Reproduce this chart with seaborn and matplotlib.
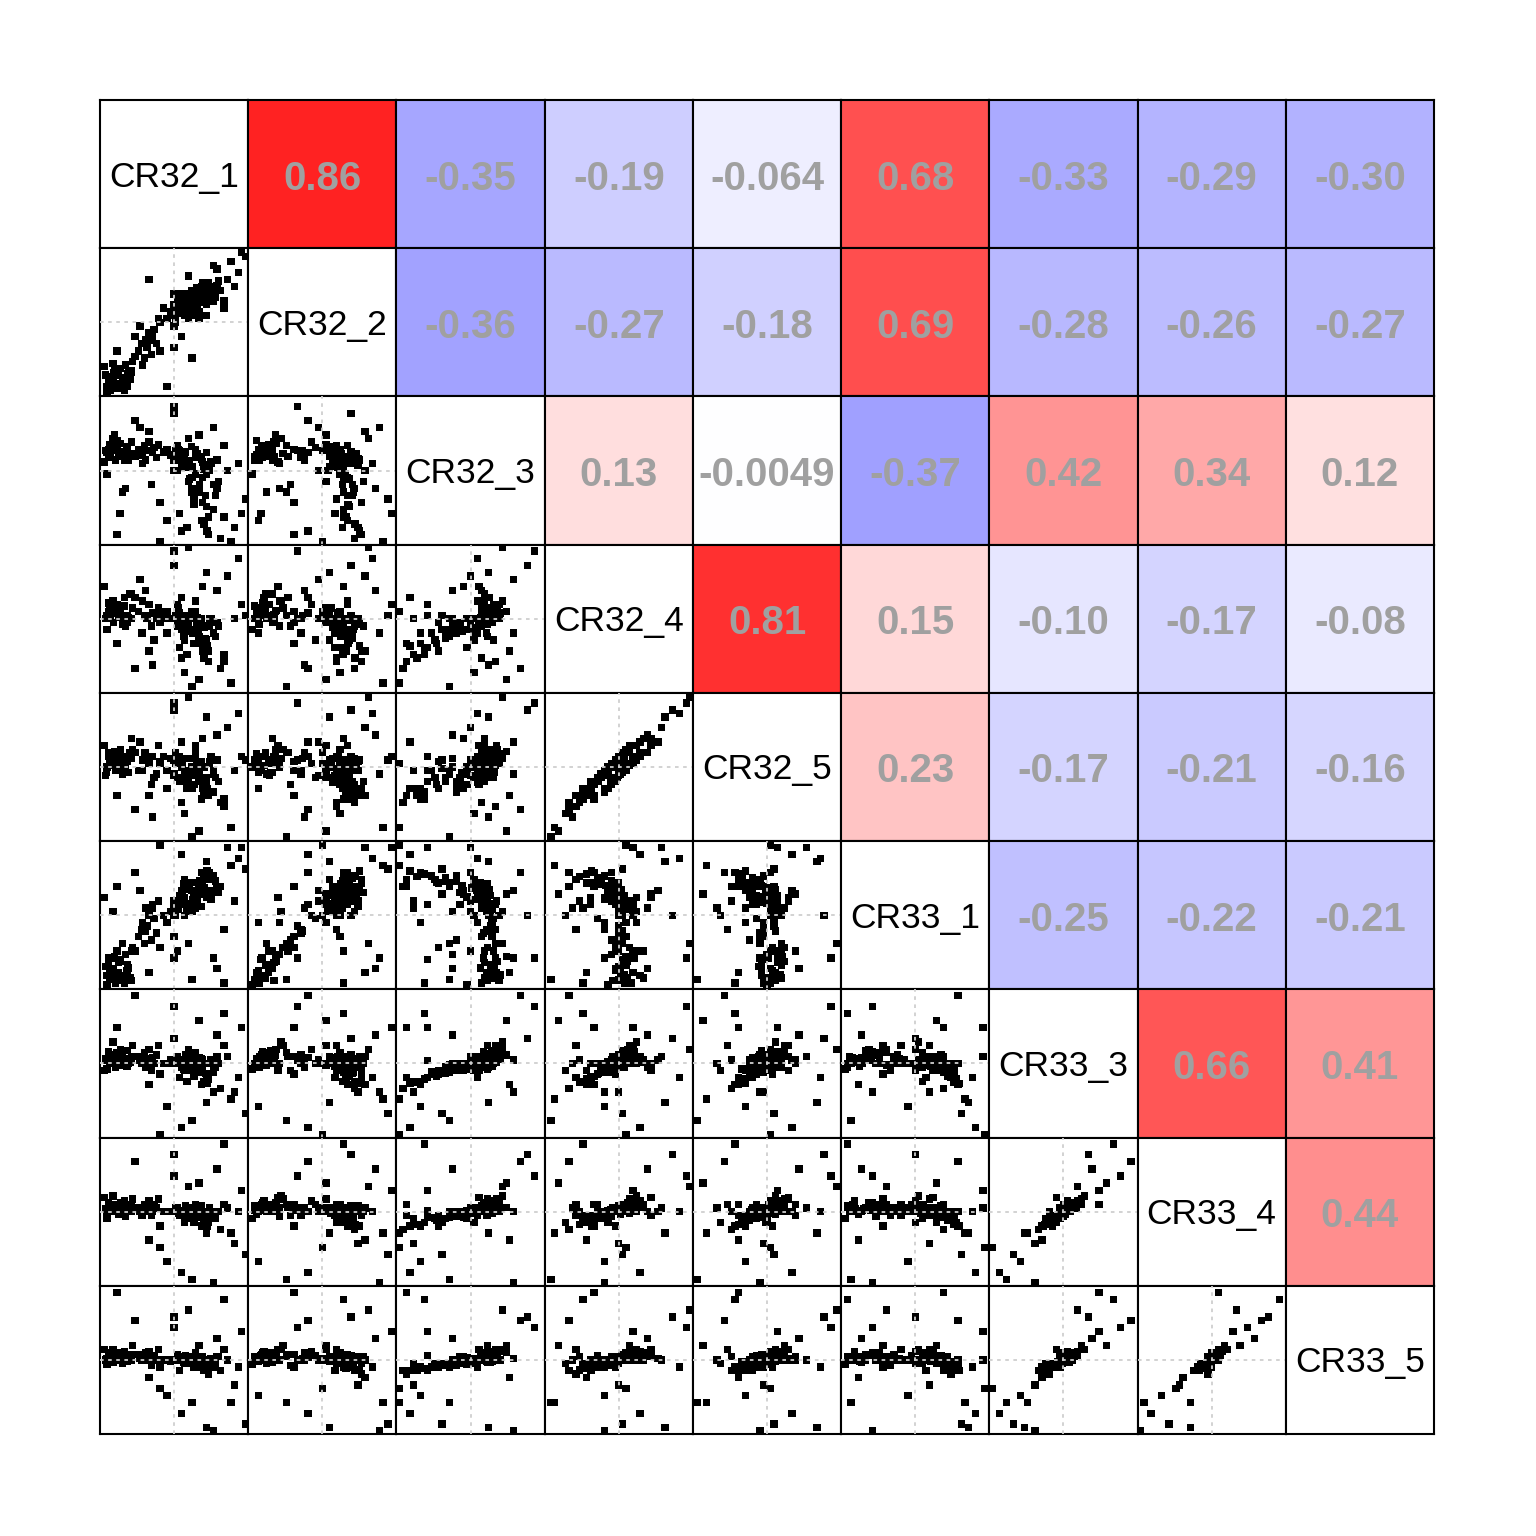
import numpy as np
import pandas as pd
import seaborn as sns
import matplotlib.pyplot as plt
from matplotlib.colors import LinearSegmentedColormap, Normalize

# variable names (diagonal labels)
names = ['CR32_1', 'CR32_2', 'CR32_3', 'CR32_4', 'CR32_5',
         'CR33_1', 'CR33_3', 'CR33_4', 'CR33_5']

# correlations shown in the upper triangle, row by row
corr_labels = ['0.86', '-0.35', '-0.19', '-0.064', '0.68', '-0.33', '-0.29', '-0.30',
               '-0.36', '-0.27', '-0.18', '0.69', '-0.28', '-0.26', '-0.27',
               '0.13', '-0.0049', '-0.37', '0.42', '0.34', '0.12',
               '0.81', '0.15', '-0.10', '-0.17', '-0.08',
               '0.23', '-0.17', '-0.21', '-0.16',
               '-0.25', '-0.22', '-0.21',
               '0.66', '0.41',
               '0.44']

# scatter values (estimated, centred, scaled to about -1..1)
cr32_1 = [-0.95, -0.92, -0.90, -0.88, -0.85, -0.82, -0.80, -0.78, -0.75, -0.72, -0.70, -0.68, -0.65, -0.98, -0.60, -0.58, -0.94, -0.86, -0.76, -0.66, -0.84, -0.62, -0.96, -0.70,
          -0.50, -0.45, -0.42, -0.40, -0.38, -0.35, -0.32, -0.30, -0.28, -0.25, -0.22, -0.48, -0.20, -0.44,
          0.00, 0.05, 0.10, 0.15, 0.20, 0.25, 0.30, 0.35, 0.40, 0.45, 0.50, 0.55, 0.60,
          -0.10, -0.05, 0.02, 0.08, 0.12, 0.18, 0.22, 0.28, 0.32, 0.38, 0.42, 0.48, 0.52, 0.58, 0.62,
          0.05, 0.15, 0.25, 0.35, 0.45, 0.55,
          -0.15, 0.00, 0.10, 0.20, 0.30, 0.40, 0.50, 0.65, 0.00, 0.05,
          0.95, 0.90, 0.80, 0.75, 0.70, 0.85, -0.10, 0.00, 0.10, 0.35, 0.60, -0.55, 1.00, -0.35, 0.00, 0.25, 0.45, -0.80, 0.20, 0.70, -0.20, 0.55,
          0.10, -0.30, 0.40, -0.60, 0.15, 0.30,
          0.12, 0.22, 0.33, 0.44, 0.08, 0.18, 0.28, 0.38, 0.48, -0.85, -0.78, -0.90, -0.72, -0.64, 0.26,
          0.36, 0.16, 0.06, 0.42, 0.52, -0.92, -0.80, 0.30, 0.14, 0.24, 0.34, -0.40, -0.55, 0.46, 0.02]
cr32_2 = [-0.90, -0.80, -0.95, -0.85, -0.70, -0.88, -0.75, -0.92, -0.65, -0.78, -0.82, -0.60, -0.72, -0.62, -0.68, -0.55, -0.98, -0.58, -0.86, -0.90, -0.66, -0.80, -0.74, -0.95,
          -0.40, -0.30, -0.50, -0.25, -0.35, -0.15, -0.45, -0.20, -0.10, -0.30, 0.05, -0.05, -0.40, -0.60,
          0.10, 0.20, 0.25, 0.30, 0.22, 0.35, 0.40, 0.30, 0.45, 0.38, 0.50, 0.42, 0.52,
          0.05, 0.15, 0.00, 0.18, 0.12, 0.28, 0.32, 0.20, 0.48, 0.35, 0.28, 0.55, 0.40, 0.35, 0.58,
          0.35, 0.10, 0.45, 0.15, 0.25, 0.30,
          0.20, -0.05, 0.40, 0.05, 0.25, 0.55, 0.30, 0.45, 0.25, 0.30,
          0.98, 0.70, 0.85, 0.60, 0.20, 0.50, -0.90, -0.35, -0.20, 0.05, 0.75, -0.20, 0.92, 0.60, 0.40, -0.50, 0.10, -0.40, 0.65, 0.30, 0.00, 0.80,
          0.20, -0.25, 0.30, -0.70, 0.25, 0.35,
          0.30, 0.38, 0.25, 0.42, 0.22, 0.15, 0.36, 0.50, 0.33, -0.82, -0.68, -0.76, -0.88, -0.70, 0.18,
          0.28, 0.40, 0.12, 0.46, 0.38, -0.84, -0.92, 0.32, 0.26, 0.10, 0.44, -0.28, -0.48, 0.52, 0.08]
cr32_3 = [0.25, 0.30, 0.20, 0.35, 0.28, 0.15, 0.32, 0.22, 0.38, -0.30, 0.26, -0.25, 0.34, 0.12, 0.40, 0.24, -0.05, 0.45, -0.60, 0.30, 0.50, 0.20, 0.28, 0.15,
          0.30, 0.22, 0.35, 0.15, 0.28, 0.40, -0.20, 0.25, 0.32, 0.18, 0.36, 0.60, -0.45, 0.10,
          0.20, 0.15, 0.25, 0.10, 0.05, -0.10, 0.18, -0.30, 0.12, -0.50, 0.08, -0.20, 0.15,
          0.30, 0.22, 0.28, -0.60, 0.20, -0.80, 0.14, -0.40, 0.24, -0.70, 0.02, -0.90, 0.10, -0.35, -0.15,
          0.35, 0.05, -0.25, 0.20, -0.05, -0.55,
          0.26, 0.00, 0.10, -0.15, 0.30, -0.45, 0.00, -0.95, 0.15, 0.00,
          -0.60, 0.10, -1.00, 0.00, 0.35, -0.80, -0.70, 0.90, -0.85, 0.50, -0.25, 0.70, -0.40, 0.55, 0.80, -0.30, 0.25, -0.90, 0.45, -0.65, -1.00, 0.60,
          0.15, 0.25, -0.10, 0.20, 0.05, 0.20,
          0.18, -0.12, 0.22, -0.35, 0.28, 0.10, -0.48, 0.16, -0.65, 0.32, 0.20, 0.36, 0.24, 0.14, 0.06,
          -0.20, 0.26, 0.30, -0.75, 0.12, 0.18, 0.42, -0.05, 0.24, 0.34, -0.30, 0.28, 0.20, -0.85, 0.00]
cr32_4 = [0.05, 0.10, 0.00, 0.15, -0.05, 0.08, 0.20, 0.02, 0.12, 0.00, 0.30, -0.10, 0.05, 0.45, 0.00, 0.15, -0.15, 0.25, 0.05, -0.05, 0.10, 0.35, 0.00, 0.18,
          0.10, -0.20, 0.05, 0.40, 0.00, 0.20, -0.10, 0.08, -0.30, 0.00, 0.15, 0.55, -0.05, 0.25,
          0.00, -0.10, -0.05, -0.20, 0.00, -0.15, 0.05, -0.25, -0.10, -0.30, 0.00, -0.20, -0.05,
          0.10, 0.00, 0.05, -0.40, -0.02, -0.50, 0.00, -0.15, -0.08, -0.35, -0.12, -0.60, 0.00, -0.25, -0.10,
          0.20, -0.30, 0.00, -0.05, -0.40, -0.20,
          0.00, 0.00, -0.15, -0.05, 0.10, -0.45, -0.10, -0.70, 0.00, 0.00,
          0.20, 0.85, -0.90, 0.60, -0.60, 0.00, -0.20, 0.95, 0.30, -0.85, 0.40, -0.70, 0.05, -0.45, 0.75, -0.95, 0.65, -0.35, 1.00, -0.50, 0.10, -0.20,
          -0.55, -0.65, 0.45, 0.35, -0.75, 0.25,
          -0.05, -0.18, 0.02, -0.28, 0.08, -0.12, -0.35, 0.00, -0.45, 0.12, 0.06, 0.20, -0.08, 0.02, -0.20,
          -0.10, 0.04, 0.15, -0.55, -0.02, 0.22, 0.08, 0.00, -0.25, 0.10, -0.15, 0.05, 0.30, -0.38, 0.00]
cr32_5 = [-0.08, 0.20, 0.10, 0.02, 0.05, -0.05, 0.05, 0.12, 0.25, -0.10, 0.15, 0.00, -0.08, 0.30, 0.12, 0.25, 0.00, 0.12, -0.05, 0.08, 0.22, 0.20, -0.12, 0.05,
          -0.05, -0.05, 0.20, 0.20, 0.10, 0.05, -0.25, 0.15, -0.15, -0.10, 0.30, 0.35, 0.08, 0.10,
          0.10, -0.15, 0.05, -0.05, -0.12, -0.30, 0.15, -0.10, -0.25, -0.15, 0.08, -0.35, 0.10,
          -0.05, 0.12, 0.20, -0.20, -0.15, -0.30, -0.10, -0.02, 0.05, -0.45, 0.00, -0.40, 0.15, -0.15, -0.20,
          0.05, -0.15, 0.12, -0.20, -0.25, -0.05,
          0.15, -0.12, 0.00, -0.15, 0.25, -0.30, 0.05, -0.50, -0.10, 0.10,
          0.15, 0.75, -0.85, 0.55, -0.55, -0.05, -0.30, 0.90, 0.35, -0.90, 0.45, -0.60, 0.10, -0.40, 0.80, -0.98, 0.70, -0.40, 0.98, -0.45, 0.05, -0.10,
          -0.50, -0.70, 0.40, 0.40, -0.65, 0.30,
          0.05, -0.08, -0.10, -0.20, 0.15, -0.22, -0.25, 0.08, -0.35, 0.02, 0.15, 0.10, 0.00, -0.08, -0.12,
          -0.20, 0.12, 0.05, -0.40, 0.10, 0.15, 0.18, -0.10, -0.15, 0.00, -0.05, 0.12, 0.20, -0.30, 0.05]
cr33_1 = [-0.85, -0.70, -0.90, -0.60, -0.75, -0.95, -0.50, -0.80, -0.65, -0.40, -0.85, -0.55, -0.70, 0.25, -0.92, -0.45, -0.98, 0.05, -0.62, -0.78, -0.58, -0.88, -0.72, -0.95,
          -0.30, -0.20, -0.40, 0.10, -0.15, 0.00, -0.35, 0.15, -0.05, -0.25, 0.20, 0.35, -0.45, -0.10,
          0.10, 0.20, 0.30, 0.25, 0.40, 0.35, 0.20, 0.45, 0.30, 0.50, 0.35, 0.55, 0.40,
          -0.10, 0.05, 0.00, 0.15, 0.28, 0.10, 0.45, 0.30, 0.25, 0.60, 0.38, 0.50, 0.22, 0.48, 0.32,
          0.15, 0.50, 0.05, 0.40, 0.25, 0.55,
          0.00, 0.20, 0.35, 0.15, 0.10, 0.45, 0.60, 0.40, -0.30, -0.50,
          0.95, 0.80, 0.70, 0.95, -0.20, 0.20, -0.10, -0.60, 0.85, 0.30, -0.75, 0.60, 0.65, -0.80, 0.00, -0.90, 0.75, 0.40, -0.40, -0.95, 0.98, -0.60,
          0.20, 0.10, 0.30, -0.50, 0.00, 0.25,
          0.32, 0.42, 0.18, 0.52, 0.28, 0.38, 0.46, 0.12, 0.58, -0.88, -0.66, -0.80, -0.92, -0.74, 0.22,
          0.48, 0.36, 0.08, 0.54, 0.30, -0.60, -0.84, 0.26, 0.44, 0.16, 0.40, -0.22, -0.50, 0.62, 0.05]
cr33_3 = [0.05, 0.10, 0.00, 0.12, 0.08, -0.05, 0.15, 0.02, 0.20, -0.02, 0.06, 0.00, 0.18, -0.10, 0.10, 0.25, -0.08, 0.30, 0.04, -0.04, 0.12, 0.02, 0.06, 0.00,
          0.10, 0.00, 0.15, -0.05, 0.05, 0.20, -0.10, 0.08, 0.00, 0.12, 0.25, 0.05, -0.15, 0.00,
          0.00, 0.05, -0.05, 0.00, 0.10, -0.10, 0.00, -0.05, 0.05, -0.15, 0.00, -0.08, 0.10,
          0.00, 0.05, 0.00, -0.20, 0.02, -0.25, 0.00, -0.10, 0.05, -0.30, 0.00, -0.20, 0.05, -0.05, 0.00,
          0.10, 0.00, -0.05, 0.08, 0.00, -0.12,
          0.00, 0.00, 0.02, -0.02, 0.15, -0.10, 0.00, -0.35, 0.00, 0.00,
          0.50, -0.20, -0.50, 0.10, 0.25, -0.40, -0.60, 0.80, -0.90, 0.60, 0.40, 0.95, -0.70, -0.30, 0.35, -0.80, -0.55, 0.50, 0.20, 0.70, -1.00, -0.40,
          0.05, 0.00, 0.00, 0.05, -0.10, 0.10,
          0.04, -0.06, 0.08, -0.14, 0.02, 0.00, -0.18, 0.06, -0.22, 0.08, 0.14, 0.02, 0.10, 0.00, -0.04,
          -0.10, 0.12, 0.00, -0.26, 0.04, 0.16, 0.06, 0.00, -0.08, 0.10, -0.12, 0.06, 0.10, -0.28, 0.00]
cr33_4 = [0.00, 0.05, 0.02, 0.10, 0.00, 0.06, 0.08, -0.04, 0.12, 0.00, 0.15, -0.06, 0.04, 0.20, 0.00, 0.18, -0.10, 0.22, 0.02, 0.00, 0.06, 0.10, 0.04, 0.08,
          0.05, -0.05, 0.10, 0.00, 0.02, 0.15, -0.05, 0.00, 0.10, 0.05, 0.18, 0.00, -0.20, 0.05,
          0.00, 0.02, 0.00, -0.05, 0.05, -0.08, 0.00, 0.00, 0.00, -0.10, 0.05, -0.05, 0.00,
          0.00, 0.00, 0.05, -0.05, 0.00, -0.10, 0.00, -0.15, 0.05, -0.20, -0.02, -0.05, 0.00, -0.10, 0.00,
          0.05, 0.00, 0.00, 0.05, -0.05, -0.08,
          0.00, 0.00, 0.02, 0.00, 0.10, -0.05, 0.00, -0.25, 0.00, 0.00,
          0.30, 0.00, -0.30, 0.05, 0.10, -0.45, -0.70, 0.50, -0.85, 0.40, 0.60, 0.70, -0.60, -0.40, 0.80, -0.95, -0.30, 0.10, 0.35, 0.95, -0.50, -1.00,
          0.00, 0.05, -0.05, 0.10, -0.15, 0.00,
          0.02, -0.04, 0.06, -0.10, 0.00, 0.03, -0.12, 0.08, -0.15, 0.04, 0.10, 0.00, 0.06, 0.02, 0.00,
          -0.06, 0.08, -0.02, -0.18, 0.00, 0.12, 0.04, 0.02, -0.05, 0.06, -0.08, 0.04, 0.06, -0.20, 0.00]
cr33_5 = [0.02, 0.00, 0.05, 0.08, -0.03, 0.00, 0.10, 0.04, 0.06, -0.05, 0.12, 0.00, 0.08, 0.15, 0.00, 0.20, -0.06, 0.15, 0.06, -0.02, 0.10, 0.04, 0.00, 0.05,
          0.08, 0.00, 0.05, 0.10, 0.00, 0.12, -0.08, 0.04, 0.06, 0.00, 0.15, 0.02, -0.10, 0.00,
          0.00, 0.00, 0.05, 0.00, 0.02, -0.05, 0.00, -0.10, 0.00, -0.05, 0.00, -0.02, 0.05,
          0.00, -0.02, 0.00, -0.15, 0.00, -0.05, 0.05, -0.05, 0.00, -0.10, 0.00, -0.20, 0.00, -0.05, 0.05,
          0.08, -0.02, 0.00, 0.05, 0.00, -0.10,
          0.00, 0.00, 0.00, 0.02, 0.10, -0.05, 0.00, -0.15, 0.00, 0.00,
          0.40, -0.10, -0.60, 0.00, 0.15, -0.35, -0.50, 0.45, -0.75, 0.20, 0.30, 0.55, -0.90, -0.25, 0.60, -0.60, -0.95, 0.95, 0.70, 0.85, -0.40, -1.00,
          0.05, 0.00, 0.05, 0.00, -0.05, 0.00,
          0.00, -0.03, 0.04, -0.08, 0.02, 0.00, -0.10, 0.05, -0.12, 0.02, 0.08, 0.04, 0.00, 0.03, -0.02,
          -0.05, 0.06, 0.00, -0.14, 0.02, 0.10, 0.00, 0.03, -0.04, 0.05, -0.06, 0.02, 0.08, -0.15, 0.00]

df = pd.DataFrame(dict(zip(names, [cr32_1, cr32_2, cr32_3, cr32_4, cr32_5,
                                   cr33_1, cr33_3, cr33_4, cr33_5])))

sns.set_style('white')
plt.rcParams['font.family'] = ['Liberation Sans', 'DejaVu Sans']

cmap = LinearSegmentedColormap.from_list('bwr_lin', ['#0000ff', '#ffffff', '#ff0000'])
norm = Normalize(-1, 1)

g = sns.PairGrid(df, height=1.7, despine=False)
g.map_lower(sns.scatterplot, marker='s', s=28, color='black', edgecolor='none', linewidth=0)

fig = g.figure
fig.set_size_inches(15.36, 15.36)
fig.subplots_adjust(left=100/1536, right=1434/1536, bottom=102/1536, top=1436/1536,
                    wspace=0, hspace=0)

n = len(names)
k = 0
for i in range(n):
    for j in range(n):
        ax = g.axes[i, j]
        if i < j:
            lab = corr_labels[k]
            k += 1
            ax.set_facecolor(cmap(norm(float(lab))))
            ax.text(0.5, 0.47, lab, transform=ax.transAxes, ha='center', va='center',
                    fontsize=29, fontweight='bold', color='#a0a0a0')
        elif i == j:
            ax.text(0.5, 0.48, names[i], transform=ax.transAxes, ha='center', va='center',
                    fontsize=25.5, color='black')
        else:
            ax.axhline(0, color='#cfcfcf', lw=1.3, ls=(0, (2, 2.5)), zorder=3)
            ax.axvline(0, color='#cfcfcf', lw=1.3, ls=(0, (2, 2.5)), zorder=3)
        for sp in ax.spines.values():
            sp.set_color('black')
            sp.set_linewidth(1.5)

g.set(xlim=(-1.04, 1.04), ylim=(-1.04, 1.04), xticks=[], yticks=[], xlabel='', ylabel='')

fig.savefig('out.png', dpi=100, facecolor='white')
